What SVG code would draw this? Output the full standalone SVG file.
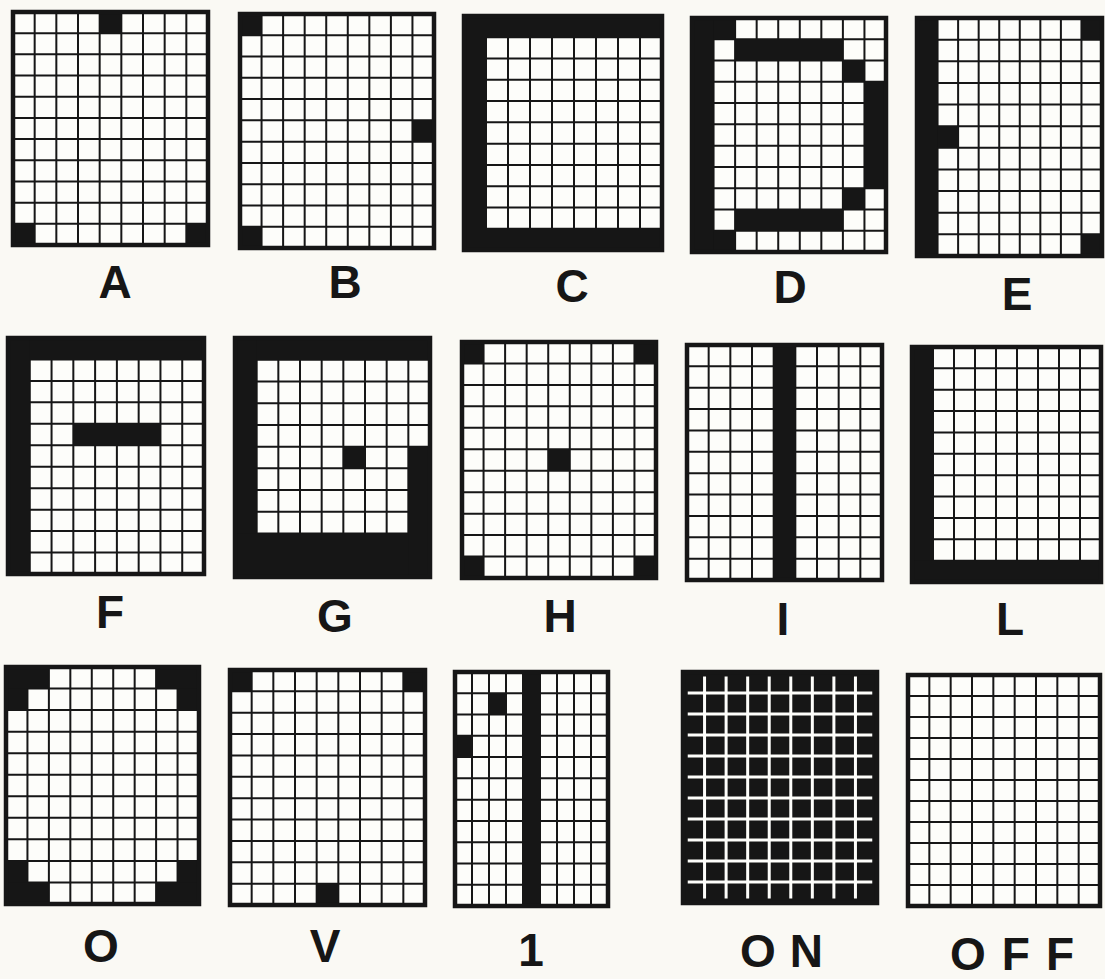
<svg xmlns="http://www.w3.org/2000/svg" xmlns:xlink="http://www.w3.org/1999/xlink" width="1105" height="979" viewBox="0 0 1105 979">
<style>
.cell{fill:#fdfdfa}
.gl{stroke:#161616;stroke-width:2;fill:none;vector-effect:non-scaling-stroke}
.bd{stroke:#161616;stroke-width:4.5;fill:none;vector-effect:non-scaling-stroke}
.k{fill:#161616}
.wl{stroke:#fdfdfa;stroke-width:3;fill:none;vector-effect:non-scaling-stroke}
.lbl{font-family:"Liberation Sans",Arial,sans-serif;font-weight:bold;font-size:46px;fill:#161616;text-anchor:middle}
.lbs{font-family:"Liberation Sans",Arial,sans-serif;font-weight:bold;font-size:46px;fill:#161616}
</style>
<defs>
<g id="grid">
<rect class="cell" width="9" height="11"/>
<path class="gl" d="M1 0V11M2 0V11M3 0V11M4 0V11M5 0V11M6 0V11M7 0V11M8 0V11M0 1H9M0 2H9M0 3H9M0 4H9M0 5H9M0 6H9M0 7H9M0 8H9M0 9H9M0 10H9"/>
</g>
<rect id="border" class="bd" width="9" height="11"/>
</defs>
<rect width="1105" height="979" fill="#faf9f4"/>

<g id="node-A">
<g transform="translate(13 12) scale(21.667 21.182)">
<use href="#grid"/>
<rect class="k" x="4" y="0" width="1" height="1"/>
<rect class="k" x="0" y="10" width="1" height="1"/>
<rect class="k" x="8" y="10" width="1" height="1"/>
<use href="#border"/>
</g>
<text class="lbl" x="115" y="298">A</text>
</g>

<g id="node-B">
<g transform="translate(240 14) scale(21.556 21.273)">
<use href="#grid"/>
<rect class="k" x="0" y="0" width="1" height="1"/>
<rect class="k" x="8" y="5" width="1" height="1"/>
<rect class="k" x="0" y="10" width="1" height="1"/>
<use href="#border"/>
</g>
<text class="lbl" x="345" y="298">B</text>
</g>

<g id="node-C">
<g transform="translate(464 16) scale(22 21.273)">
<use href="#grid"/>
<rect class="k" x="0" y="0" width="9" height="1"/>
<rect class="k" x="0" y="0" width="1" height="11"/>
<rect class="k" x="0" y="10" width="9" height="1"/>
<use href="#border"/>
</g>
<text class="lbl" x="572" y="302">C</text>
</g>

<g id="node-D">
<g transform="translate(692 18) scale(21.556 21.273)">
<use href="#grid"/>
<rect class="k" x="0" y="0" width="1" height="11"/>
<rect class="k" x="1" y="0" width="1" height="1"/>
<rect class="k" x="2" y="1" width="5" height="1"/>
<rect class="k" x="7" y="2" width="1" height="1"/>
<rect class="k" x="8" y="3" width="1" height="5"/>
<rect class="k" x="7" y="8" width="1" height="1"/>
<rect class="k" x="2" y="9" width="5" height="1"/>
<rect class="k" x="1" y="10" width="1" height="1"/>
<use href="#border"/>
</g>
<text class="lbl" x="790" y="303">D</text>
</g>

<g id="node-E">
<g transform="translate(917 18) scale(20.556 21.636)">
<use href="#grid"/>
<rect class="k" x="0" y="0" width="1" height="11"/>
<rect class="k" x="8" y="0" width="1" height="1"/>
<rect class="k" x="1" y="5" width="1" height="1"/>
<rect class="k" x="8" y="10" width="1" height="1"/>
<use href="#border"/>
</g>
<text class="lbl" x="1017" y="310">E</text>
</g>

<g id="node-F">
<g transform="translate(8 338) scale(21.778 21.455)">
<use href="#grid"/>
<rect class="k" x="0" y="0" width="9" height="1"/>
<rect class="k" x="0" y="0" width="1" height="11"/>
<rect class="k" x="3" y="4" width="4" height="1"/>
<use href="#border"/>
</g>
<text class="lbl" x="110" y="628">F</text>
</g>

<g id="node-G">
<g transform="translate(235 338) scale(21.667 21.727)">
<use href="#grid"/>
<rect class="k" x="0" y="0" width="9" height="1"/>
<rect class="k" x="0" y="0" width="1" height="11"/>
<rect class="k" x="0" y="9" width="9" height="2"/>
<rect class="k" x="8" y="5" width="1" height="6"/>
<rect class="k" x="5" y="5" width="1" height="1"/>
<use href="#border"/>
</g>
<text class="lbl" x="335" y="632">G</text>
</g>

<g id="node-H">
<g transform="translate(462 342) scale(21.556 21.455)">
<use href="#grid"/>
<rect class="k" x="0" y="0" width="1" height="1"/>
<rect class="k" x="8" y="0" width="1" height="1"/>
<rect class="k" x="4" y="5" width="1" height="1"/>
<rect class="k" x="0" y="10" width="1" height="1"/>
<rect class="k" x="8" y="10" width="1" height="1"/>
<use href="#border"/>
</g>
<text class="lbl" x="560" y="632">H</text>
</g>

<g id="node-I">
<g transform="translate(687 345) scale(21.667 21.364)">
<use href="#grid"/>
<rect class="k" x="4" y="0" width="1" height="11"/>
<use href="#border"/>
</g>
<text class="lbl" x="783" y="635">I</text>
</g>

<g id="node-L">
<g transform="translate(912 347) scale(21 21.364)">
<use href="#grid"/>
<rect class="k" x="0" y="0" width="1" height="11"/>
<rect class="k" x="0" y="10" width="9" height="1"/>
<use href="#border"/>
</g>
<text class="lbl" x="1010" y="635">L</text>
</g>

<g id="node-O">
<g transform="translate(6 667) scale(21.444 21.545)">
<use href="#grid"/>
<rect class="k" x="0" y="0" width="2" height="1"/>
<rect class="k" x="7" y="0" width="2" height="1"/>
<rect class="k" x="0" y="1" width="1" height="1"/>
<rect class="k" x="8" y="1" width="1" height="1"/>
<rect class="k" x="0" y="9" width="1" height="1"/>
<rect class="k" x="8" y="9" width="1" height="1"/>
<rect class="k" x="0" y="10" width="2" height="1"/>
<rect class="k" x="7" y="10" width="2" height="1"/>
<use href="#border"/>
</g>
<text class="lbl" x="101" y="962">O</text>
</g>

<g id="node-V">
<g transform="translate(230 670) scale(21.667 21.364)">
<use href="#grid"/>
<rect class="k" x="0" y="0" width="1" height="1"/>
<rect class="k" x="8" y="0" width="1" height="1"/>
<rect class="k" x="4" y="10" width="1" height="1"/>
<use href="#border"/>
</g>
<text class="lbl" x="325" y="962">V</text>
</g>

<g id="node-1">
<g transform="translate(455 672) scale(17 21.273)">
<use href="#grid"/>
<rect class="k" x="4" y="0" width="1" height="11"/>
<rect class="k" x="2" y="1" width="1" height="1"/>
<rect class="k" x="0" y="3" width="1" height="1"/>
<use href="#border"/>
</g>
<text class="lbl" x="531" y="966">1</text>
</g>

<g id="node-ON">
<g transform="translate(683 672) scale(21.556 21)">
<rect class="k" width="9" height="11"/>
<path class="wl" d="M1 0.22V10.78M2 0.22V10.78M3 0.22V10.78M4 0.22V10.78M5 0.22V10.78M6 0.22V10.78M7 0.22V10.78M8 0.22V10.78M0.22 1H8.78M0.22 2H8.78M0.22 3H8.78M0.22 4H8.78M0.22 5H8.78M0.22 6H8.78M0.22 7H8.78M0.22 8H8.78M0.22 9H8.78M0.22 10H8.78"/>
<use href="#border"/>
</g>
<text class="lbs" x="740" y="967" letter-spacing="14">ON</text>
</g>

<g id="node-OFF">
<g transform="translate(908 675) scale(21.333 21)">
<use href="#grid"/>
<use href="#border"/>
</g>
<text class="lbs" x="950" y="970" letter-spacing="16">OFF</text>
</g>

<g id="connectors"/>
</svg>
